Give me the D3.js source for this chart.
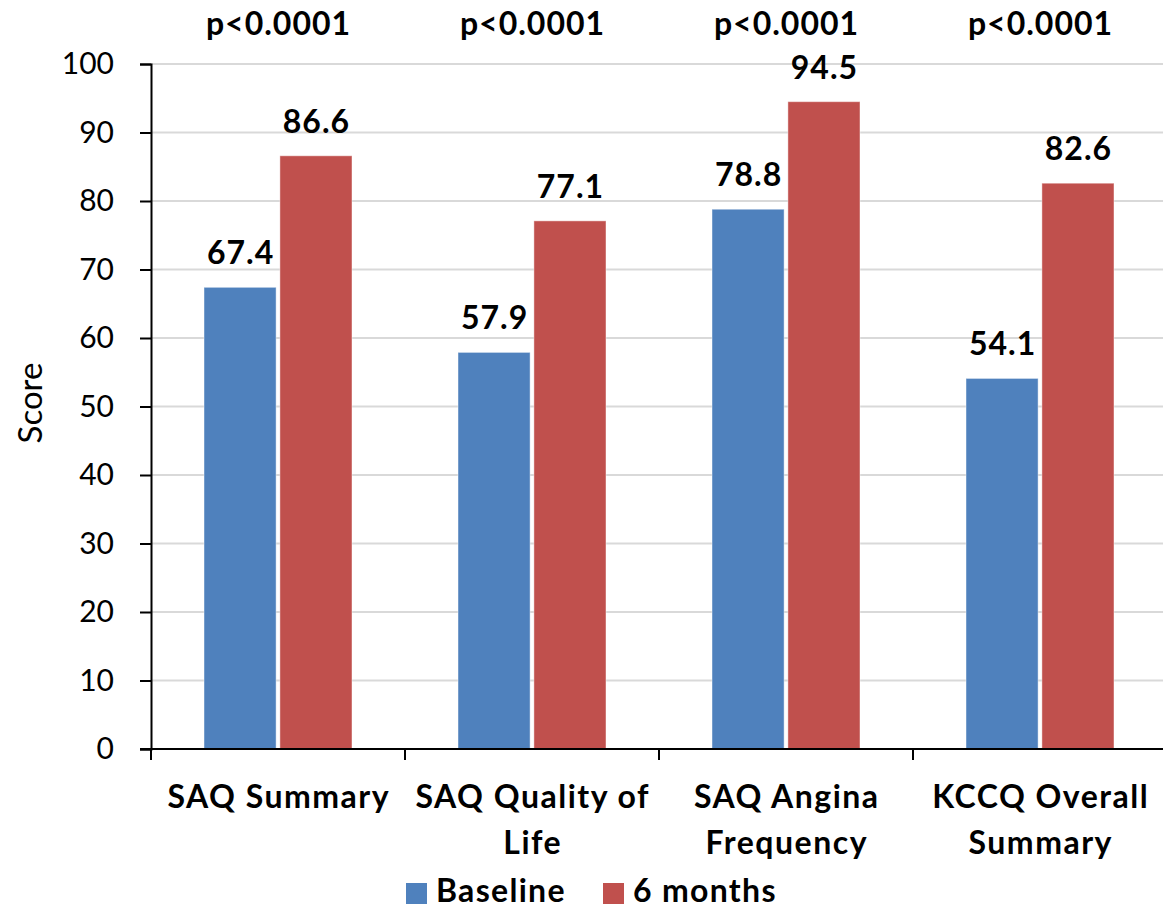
<!DOCTYPE html>
<html>
<head>
<meta charset="utf-8">
<script src="https://cdn.jsdelivr.net/npm/d3@7"></script>
<style>
  html, body { margin: 0; padding: 0; background: #fff; }
  svg text { font-family: Lato, "Open Sans", "Liberation Sans", sans-serif; fill: #000; }
</style>
</head>
<body>
<svg id="chart" width="1163" height="908"></svg>
<script>
// Quality-of-life scores, baseline vs 6 months
const categories = [
  ["SAQ Summary"],
  ["SAQ Quality of", "Life"],
  ["SAQ Angina", "Frequency"],
  ["KCCQ Overall", "Summary"]
];
const seriesNames = ["Baseline", "6 months"];
const baseline = [67.4, 57.9, 78.8, 54.1];
const sixMonths = [86.6, 77.1, 94.5, 82.6];
const pValues = ["p<0.0001", "p<0.0001", "p<0.0001", "p<0.0001"];
const yTicks = [0, 10, 20, 30, 40, 50, 60, 70, 80, 90, 100];
const colors = ["#4F81BD", "#C0504D"];

const svg = d3.select("#chart");
const margin = { left: 151, right: -4, top: 64, bottom: 159 };
const W = 1163, H = 908;
const plotBottom = H - margin.bottom;

const keys = categories.map((c, i) => i);
const x = d3.scaleBand().domain(keys).range([margin.left, W - margin.right]).padding(0);
const inner = d3.scaleBand().domain(seriesNames)
  .range([53, x.bandwidth() - 53]).paddingInner(0.05);
const y = d3.scaleLinear().domain([0, 100]).range([plotBottom, margin.top]);

// gridlines
svg.append("g")
  .selectAll("line")
  .data(yTicks.filter(d => d > 0))
  .join("line")
  .attr("x1", margin.left).attr("x2", W)
  .attr("y1", d => y(d)).attr("y2", d => y(d))
  .attr("stroke", "#d9d9d9").attr("stroke-width", 2);

// bars
const rows = keys.map(i => [baseline[i], sixMonths[i]]);
const groups = svg.append("g").selectAll("g")
  .data(rows)
  .join("g")
  .attr("transform", (d, i) => `translate(${x(i)},0)`);

groups.selectAll("rect")
  .data(d => d.map((v, j) => ({ v, s: seriesNames[j], j })))
  .join("rect")
  .attr("x", d => inner(d.s))
  .attr("width", inner.bandwidth())
  .attr("y", d => y(d.v))
  .attr("height", d => y(0) - y(d.v))
  .attr("fill", d => colors[d.j])
  .attr("stroke", "rgba(255,255,255,0.45)")
  .attr("stroke-width", 1);

// value labels
groups.selectAll("text.val")
  .data(d => d.map((v, j) => ({ v, s: seriesNames[j], j })))
  .join("text")
  .attr("class", "val")
  .attr("x", d => inner(d.s) + inner.bandwidth() / 2 + 0.5)
  .attr("y", d => y(d.v) - 23)
  .attr("text-anchor", "middle")
  .attr("font-weight", "bold")
  .attr("font-size", 32)
  .attr("letter-spacing", 1)
  .text(d => d.v.toFixed(1));

// p-values above each group
svg.append("g").selectAll("text")
  .data(pValues)
  .join("text")
  .attr("x", (d, i) => x(i) + x.bandwidth() / 2 + 0.5)
  .attr("y", 35)
  .attr("text-anchor", "middle")
  .attr("font-weight", "bold")
  .attr("font-size", 32)
  .attr("letter-spacing", 1)
  .text(d => d);

// y axis
const yAxis = svg.append("g")
  .attr("transform", `translate(${margin.left},0)`)
  .call(d3.axisLeft(y).tickValues(yTicks).tickSize(11).tickPadding(26));
yAxis.select(".domain").attr("stroke", "#000").attr("stroke-width", 2);
yAxis.selectAll(".tick line").attr("stroke", "#000").attr("stroke-width", 2);
yAxis.selectAll(".tick text")
  .attr("font-size", 30)
  .attr("font-family", "Lato, 'Open Sans', sans-serif")
  .attr("fill", "#000");

// x axis baseline and category ticks
svg.append("line")
  .attr("x1", margin.left - 11).attr("x2", W)
  .attr("y1", y(0)).attr("y2", y(0))
  .attr("stroke", "#000").attr("stroke-width", 2);
svg.append("g").selectAll("line")
  .data(keys)
  .join("line")
  .attr("x1", d => x(d)).attr("x2", d => x(d))
  .attr("y1", y(0)).attr("y2", y(0) + 11)
  .attr("stroke", "#000").attr("stroke-width", 2);

// category labels
const catText = svg.append("g").selectAll("text")
  .data(categories)
  .join("text")
  .attr("x", (d, i) => x(i) + x.bandwidth() / 2 + 0.75)
  .attr("y", 808)
  .attr("text-anchor", "middle")
  .attr("font-weight", "bold")
  .attr("font-size", 32)
  .attr("letter-spacing", 1.5);
catText.selectAll("tspan")
  .data(d => d)
  .join("tspan")
  .attr("x", function () { return d3.select(this.parentNode).attr("x"); })
  .attr("dy", (d, i) => i === 0 ? 0 : 46)
  .text(d => d);

// y axis title
svg.append("text")
  .attr("transform", "translate(42,403) rotate(-90)")
  .attr("text-anchor", "middle")
  .attr("font-size", 33)
  .text("Score");

// legend
const legendItems = [
  { name: seriesNames[0], color: colors[0], x: 406 },
  { name: seriesNames[1], color: colors[1], x: 603 }
];
const lg = svg.append("g").selectAll("g")
  .data(legendItems)
  .join("g")
  .attr("transform", d => `translate(${d.x},883)`);
lg.append("rect").attr("width", 21).attr("height", 21).attr("fill", d => d.color);
lg.append("text")
  .attr("x", 30).attr("y", 19)
  .attr("font-weight", "bold")
  .attr("font-size", 32)
  .attr("letter-spacing", 1.3)
  .text(d => d.name);
</script>
</body>
</html>
